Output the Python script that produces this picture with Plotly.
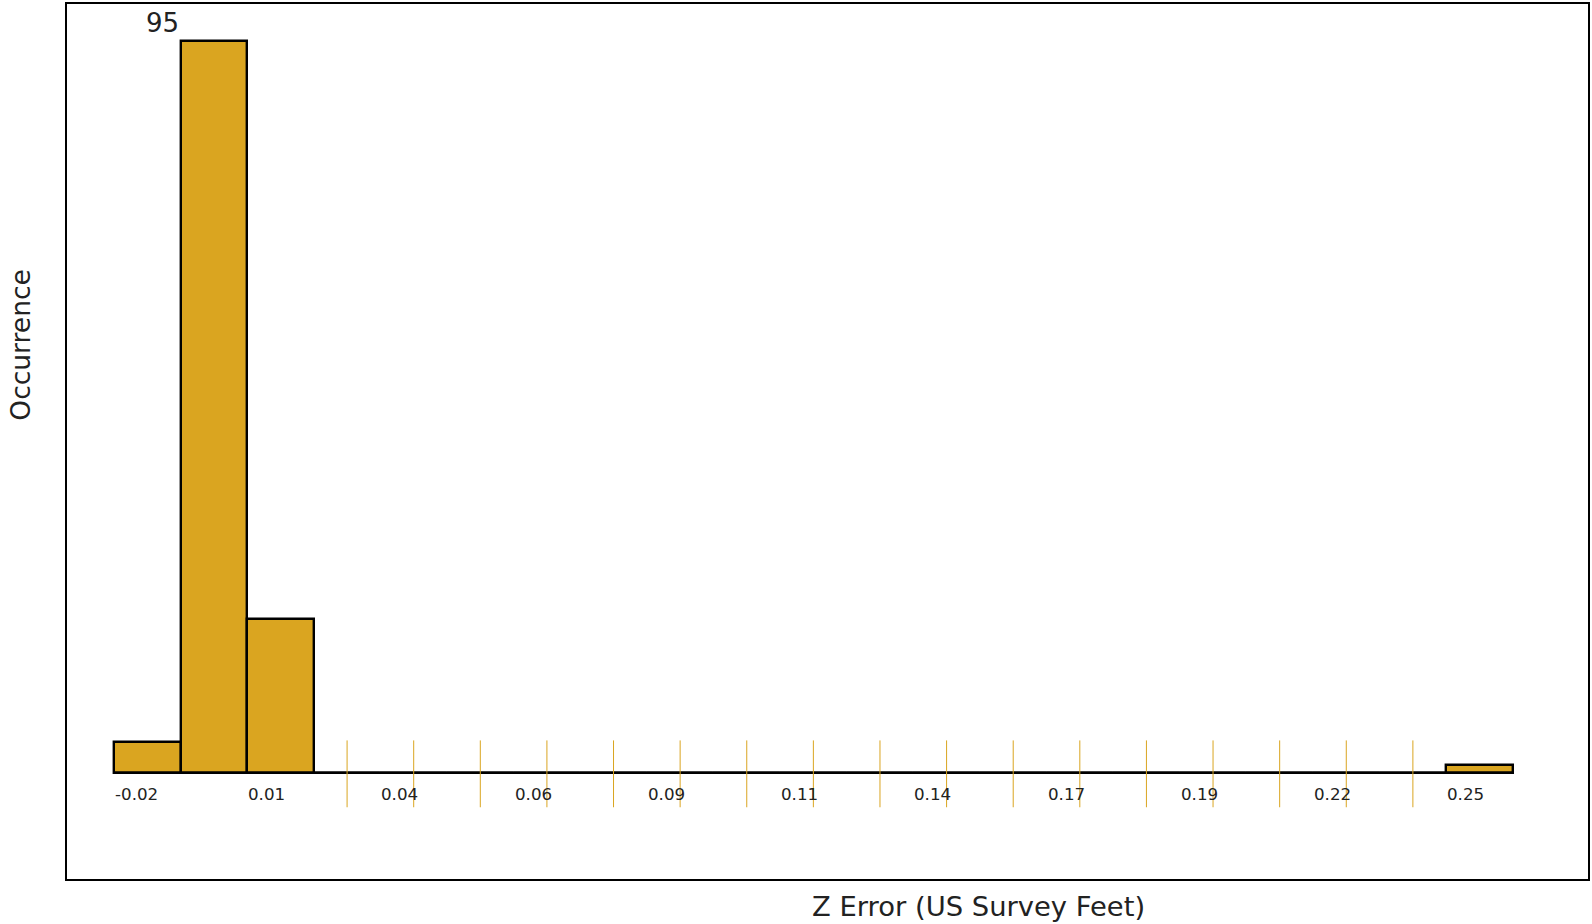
import plotly.graph_objects as go

counts = [4, 95, 20, 0, 0, 0, 0, 0, 0, 0, 0, 0, 0, 0, 0, 0, 0, 0, 0, 0, 1]
tick_labels = ["-0.02", "0.01", "0.04", "0.06", "0.09", "0.11", "0.14", "0.17", "0.19", "0.22", "0.25"]
x_title = "Z Error (US Survey Feet)"
y_title = "Occurrence"

GOLD = "#DAA520"
W, H = 1592, 924
L, R, T, B = 67, 2, 2, 45
pw, ph = W - L - R, H - T - B
n = len(counts)
bin_px = 66.7
first_left = 114.0
base_px = 772.6
x0 = -0.5 - (first_left - L) / bin_px
x1 = x0 + pw / bin_px
ppu = 7.716
y0 = -(T + ph - base_px) / ppu
y1 = (base_px - T) / ppu

idx = list(range(n))
fig = go.Figure()
fig.add_trace(go.Bar(x=idx, y=counts, width=1, marker=dict(color=GOLD, line=dict(color="black", width=2.4)),
                     hoverinfo="x+y", showlegend=False))

# baseline
fig.add_trace(go.Scatter(x=[-0.5, n - 0.5], y=[0, 0], mode="lines", line=dict(color="black", width=2.5),
                         showlegend=False, hoverinfo="skip"))

# orange ticks at empty bins
tx, ty = [], []
for i, c in enumerate(counts):
    if c == 0:
        tx += [i, i, None]
        ty += [-34.5 / ppu, 32.5 / ppu, None]
fig.add_trace(go.Scatter(x=tx, y=ty, mode="lines", line=dict(color=GOLD, width=1),
                         showlegend=False, hoverinfo="skip"))

ann = []
for k, lab in enumerate(tick_labels):
    ann.append(dict(x=2 * k - 0.5, y=-21.3 / ppu, xref="x", yref="y", text=lab, showarrow=False,
                    xanchor="left", yanchor="middle", xshift=-1,
                    font=dict(family="DejaVu Sans", size=16.7, color="#222")))
imax = counts.index(max(counts))
ann.append(dict(x=imax - 0.5, y=max(counts), xref="x", yref="y", text=str(max(counts)), showarrow=False,
                xanchor="right", yanchor="bottom", yshift=1, font=dict(family="DejaVu Sans", size=26, color="#222")))
ann.append(dict(x=(979.7 - L) / pw, y=-(906.6 - (T + ph)) / ph, xref="paper", yref="paper", text=x_title,
                showarrow=False, xanchor="center", yanchor="middle",
                font=dict(family="DejaVu Sans", size=27.4, color="#222")))
ann.append(dict(x=(20.3 - L) / pw, y=(T + ph - 343.1) / ph, xref="paper", yref="paper", text=y_title,
                showarrow=False, xanchor="center", yanchor="middle", textangle=-90,
                font=dict(family="DejaVu Sans", size=26.5, color="#222")))

fig.update_layout(
    width=W, height=H, margin=dict(l=L, r=R, t=T, b=B),
    paper_bgcolor="white", plot_bgcolor="white",
    xaxis=dict(range=[x0, x1], showgrid=False, zeroline=False, showticklabels=False, ticks="",
               showline=True, mirror=True, linecolor="black", linewidth=2.2),
    yaxis=dict(range=[y0, y1], showgrid=False, zeroline=False, showticklabels=False, ticks="",
               showline=True, mirror=True, linecolor="black", linewidth=2.2),
    annotations=ann, bargap=0,
)
fig.write_html("out.html", config={"displayModeBar": False},
               post_script="document.body.style.margin='0';document.body.style.overflow='hidden';")
